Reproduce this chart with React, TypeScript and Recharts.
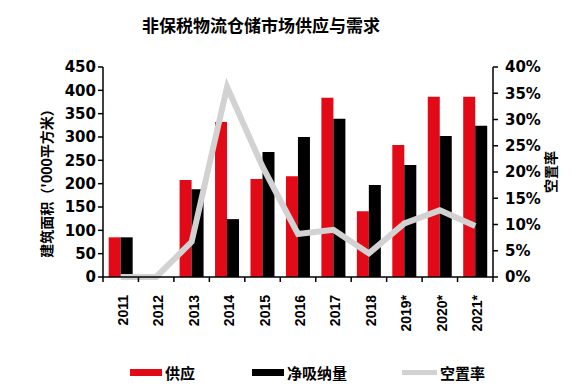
import React from 'react'
import { ComposedChart, Bar, Line, XAxis, YAxis, Legend } from 'recharts'

const years = ['2011', '2012', '2013', '2014', '2015', '2016', '2017', '2018', '2019*', '2020*', '2021*']
const supply = [85, 0, 208, 332, 210, 216, 384, 141, 283, 386, 386]
const netAbsorption = [85, 0, 188, 124, 268, 300, 339, 197, 240, 302, 324]
const vacancy = [0, 0, 6.7, 36.2, 21, 8.2, 9, 4.5, 10.2, 12.7, 9.7]

const leftTicks = [0, 50, 100, 150, 200, 250, 300, 350, 400, 450]
const rightTicks = [0, 5, 10, 15, 20, 25, 30, 35, 40]

const RED = '#e20a16'
const GREY = '#d2d2d2'
const tickFont = "'DejaVu Sans', sans-serif"
const cjkFont = "'Noto Sans CJK SC', sans-serif"

const data = years.map((year, i) => ({
  year,
  supply: supply[i],
  absorption: netAbsorption[i],
  vacancy: vacancy[i],
}))

// year labels rotated, tick marks sit on the category boundaries
function YearTick(props: any) {
  const { x, y, payload, index } = props
  const half = payload.offset ?? 0
  return (
    <g>
      <line x1={x - half} x2={x - half} y1={y - 8} y2={y - 3} stroke="#000" strokeWidth={1.5} />
      {index === years.length - 1 && (
        <line x1={x + half} x2={x + half} y1={y - 8} y2={y - 3} stroke="#000" strokeWidth={1.5} />
      )}
      <text
        x={0}
        y={0}
        transform={`translate(${x + 7},${y + 10}) rotate(-90)`}
        textAnchor="end"
        fontFamily="'Liberation Sans Narrow', 'Liberation Sans', sans-serif"
        fontWeight="bold"
        fontSize={14}
        fill="#000"
      >
        {payload.value}
      </text>
    </g>
  )
}

function LegendBox() {
  const item = (swatch: React.ReactNode, label: string, width: number) => (
    <div style={{ display: 'flex', alignItems: 'center', width }}>
      {swatch}
      <span style={{ fontFamily: cjkFont, fontWeight: 700, fontSize: 15, marginLeft: 3, color: '#000' }}>{label}</span>
    </div>
  )
  return (
    <div style={{ display: 'flex', height: 57, paddingLeft: 130, paddingTop: 24, boxSizing: 'border-box' }}>
      {item(<div style={{ width: 32, height: 7, background: RED }} />, '供应', 122)}
      {item(<div style={{ width: 32, height: 7, background: '#000' }} />, '净吸纳量', 150)}
      {item(<div style={{ width: 35, height: 5, background: GREY }} />, '空置率', 100)}
    </div>
  )
}

export default function App() {
  return (
    <div style={{ position: 'absolute', left: 0, top: 0, width: 578, height: 389, background: '#fff' }}>
      <div
        style={{
          position: 'absolute',
          top: 12,
          left: 0,
          width: 522,
          textAlign: 'center',
          fontFamily: cjkFont,
          fontWeight: 700,
          fontSize: 17,
          color: '#000',
        }}
      >
        非保税物流仓储市场供应与需求
      </div>
      <ComposedChart
        width={578}
        height={389}
        data={data}
        margin={{ top: 67, right: 0, bottom: 0, left: 0 }}
        barCategoryGap="16%"
        barGap={0}
      >
        <XAxis
          dataKey="year"
          interval={0}
          height={55}
          tickLine={false}
          axisLine={{ stroke: '#000', strokeWidth: 1.5 }}
          tick={<YearTick />}
        />
        <YAxis
          yAxisId="left"
          width={103}
          domain={[0, 450]}
          ticks={leftTicks}
          interval={0}
          tickSize={5}
          tickMargin={2}
          axisLine={{ stroke: '#000', strokeWidth: 1.5 }}
          tickLine={{ stroke: '#000', strokeWidth: 1.5 }}
          tick={{ fill: '#000', fontFamily: tickFont, fontWeight: 'bold', fontSize: 15 }}
          label={(p: any) => (
            <text
              transform={`translate(46,${p.viewBox.y + p.viewBox.height / 2 + 8}) rotate(-90)`}
              textAnchor="middle"
              dominantBaseline="central"
              fontFamily={cjkFont}
              fontWeight={700}
              fontSize={14}
              fill="#000"
            >
              建筑面积（'000平方米）
            </text>
          )}
        />
        <YAxis
          yAxisId="right"
          orientation="right"
          width={85}
          domain={[0, 40]}
          ticks={rightTicks}
          interval={0}
          tickSize={5}
          tickMargin={7}
          tickFormatter={(v: number) => `${v}%`}
          axisLine={{ stroke: '#000', strokeWidth: 1.5 }}
          tickLine={{ stroke: '#000', strokeWidth: 1.5 }}
          tick={{ fill: '#000', fontFamily: tickFont, fontWeight: 'bold', fontSize: 15 }}
          label={(p: any) => (
            <text
              transform={`translate(550,${p.viewBox.y + p.viewBox.height / 2}) rotate(-90)`}
              textAnchor="middle"
              dominantBaseline="central"
              fontFamily={cjkFont}
              fontWeight={700}
              fontSize={14}
              fill="#000"
            >
              空置率
            </text>
          )}
        />
        <Legend verticalAlign="bottom" content={() => <LegendBox />} />
        <Bar yAxisId="left" dataKey="supply" name="供应" fill={RED} isAnimationActive={false} />
        <Bar yAxisId="left" dataKey="absorption" name="净吸纳量" fill="#000" isAnimationActive={false} />
        <Line
          yAxisId="right"
          dataKey="vacancy"
          name="空置率"
          type="linear"
          stroke={GREY}
          strokeWidth={6}
          dot={false}
          activeDot={false}
          isAnimationActive={false}
        />
      </ComposedChart>
    </div>
  )
}
